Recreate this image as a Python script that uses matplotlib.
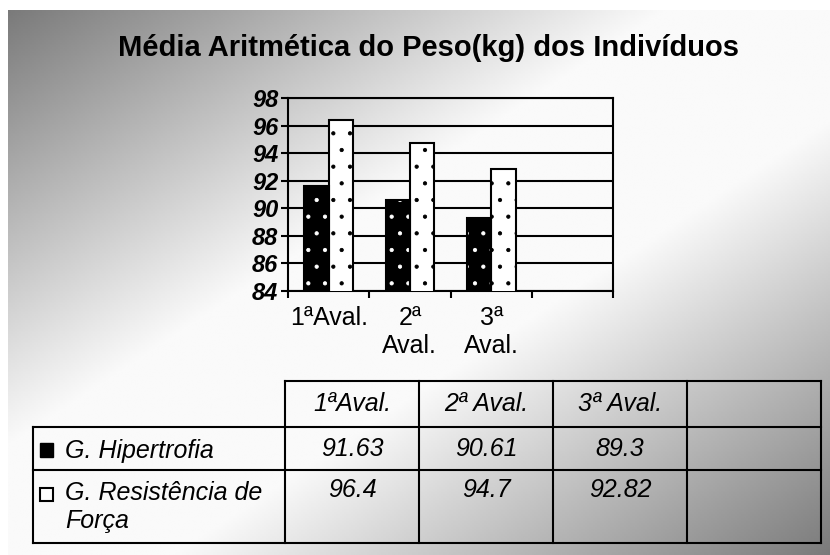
import numpy as np
import matplotlib.pyplot as plt
from matplotlib.patches import Rectangle

plt.rcParams['font.family'] = ['Liberation Sans', 'DejaVu Sans']
plt.rcParams['hatch.linewidth'] = 0.6

# dados
avaliacoes = ['1ªAval.', '2ª\nAval.', '3ª\nAval.']
avaliacoes_tab = ['1ªAval.', '2ª Aval.', '3ª Aval.']
grupos = ['G. Hipertrofia', 'G. Resistência de\nForça']
hipertrofia = [91.63, 90.61, 89.3]
resistencia = [96.4, 94.7, 92.82]
cores = ['black', 'white']
titulo = 'Média Aritmética do Peso(kg) dos Indivíduos'

W, H = 830, 555
fig = plt.figure(figsize=(W / 100, H / 100), dpi=100)
fig.patch.set_facecolor('white')

# fundo em degrade diagonal
bg = fig.add_axes([8 / W, 0, (W - 8) / W, (H - 10) / H], zorder=0)
uu, vv = np.meshgrid(np.linspace(0, 1, 400), np.linspace(0, 1, 300))
d = np.abs(uu + vv - 1)
g = 0.98 - 0.50 * np.clip((d - 0.2) / 0.8, 0, 1)
bg.imshow(g, cmap='gray', vmin=0, vmax=1, aspect='auto', interpolation='bilinear')
bg.axis('off')

fig.text(428 / W, 1 - 48 / H, titulo, ha='center', va='center',
         fontsize=21, fontweight='bold')

# grafico de barras
ax = fig.add_axes([288 / W, (H - 291) / H, (613 - 288) / W, (291 - 98) / H], zorder=2)
ax.set_facecolor('none')
x = np.arange(len(hipertrofia))
w = 0.3
ax.bar(x - w / 2, hipertrofia, w, color=cores[0], edgecolor='white', hatch='.', linewidth=0, zorder=3)
ax.bar(x - w / 2, hipertrofia, w, color='none', edgecolor='black', linewidth=1.5, zorder=4)
ax.bar(x + w / 2, resistencia, w, color=cores[1], edgecolor='black', hatch='.', linewidth=1.5, zorder=3)

ax.set_xlim(-0.5, 3.5)
ax.set_ylim(84, 98)
ax.set_yticks(np.arange(84, 99, 2))
ax.yaxis.grid(True, color='black', linewidth=1.5)
ax.set_axisbelow(True)
ax.set_xticks(np.arange(-0.5, 4, 1))
ax.set_xticklabels([])
ax.set_xticks(x, minor=True)
ax.set_xticklabels(avaliacoes, minor=True, fontsize=18)
ax.tick_params(axis='x', which='minor', length=0, pad=11)
ax.tick_params(axis='x', which='major', length=5, width=1.5)
ax.tick_params(axis='y', length=5, width=1.5, pad=2)
for lab in ax.get_yticklabels():
    lab.set_fontweight('bold')
    lab.set_fontstyle('italic')
    lab.set_fontsize(17)
for s in ax.spines.values():
    s.set_linewidth(1.5)

# tabela de dados
tab = fig.add_axes([0, 0, 1, 1], zorder=3)
tab.set_xlim(0, W)
tab.set_ylim(H, 0)
tab.axis('off')
col_x = [285, 419, 553, 687, 821]
left = 33
row_y = [381, 427, 470, 543]
lw = 1.5
tab.plot([col_x[0], col_x[-1]], [row_y[0], row_y[0]], color='black', lw=lw)
for yy in row_y[1:]:
    tab.plot([left, col_x[-1]], [yy, yy], color='black', lw=lw)
tab.plot([left, left], [row_y[1], row_y[-1]], color='black', lw=lw)
for xx in col_x:
    tab.plot([xx, xx], [row_y[0], row_y[-1]], color='black', lw=lw)

centros = [(col_x[i] + col_x[i + 1]) / 2 for i in range(len(avaliacoes_tab))]
for cx, lab in zip(centros, avaliacoes_tab):
    tab.text(cx, 404, lab, ha='center', va='center', fontsize=18, style='italic')
for cx, v in zip(centros, hipertrofia):
    tab.text(cx, 449, str(v), ha='center', va='center', fontsize=18, style='italic')
for cx, v in zip(centros, resistencia):
    tab.text(cx, 490, str(v), ha='center', va='center', fontsize=18, style='italic')

tab.add_patch(Rectangle((40, 443), 13, 14, facecolor=cores[0], edgecolor='black', lw=1))
tab.text(65, 451, grupos[0], ha='left', va='center', fontsize=18, style='italic')
tab.add_patch(Rectangle((40, 488), 13, 13, facecolor=cores[1], edgecolor='black', lw=1.5))
tab.text(65, 481, grupos[1], ha='left', va='top', fontsize=18, style='italic')

fig.savefig('out.png', dpi=100)
